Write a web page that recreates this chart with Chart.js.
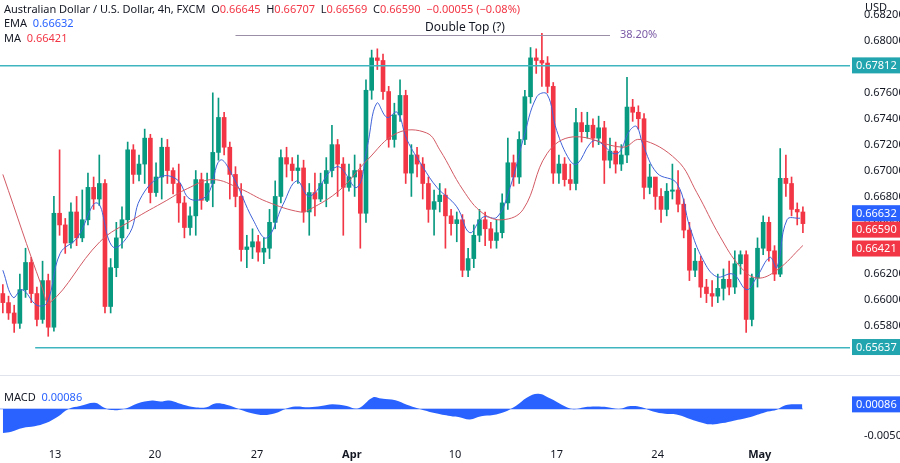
<!DOCTYPE html>
<html><head><meta charset="utf-8">
<script src="https://cdn.jsdelivr.net/npm/chart.js@4"></script>
<style>
body{margin:0;width:900px;height:463px;background:#fff;position:relative;overflow:hidden;font-family:"Noto Sans",sans-serif;}
#c1{position:absolute;left:0;top:0;}
#c2{position:absolute;left:0;top:376px;}
.sep{position:absolute;left:0;top:375px;width:900px;height:1px;background:#e0e3eb;}
.lg{position:absolute;left:4px;font-size:11px;color:#131722;white-space:nowrap;}
.r{color:#f23645}.b{color:#2962ff}
</style></head><body>
<canvas id="c1" width="900" height="375"></canvas>
<div class="sep"></div>
<canvas id="c2" width="900" height="87"></canvas>
<div class="lg" style="top:1px">Australian Dollar / U.S. Dollar, 4h, FXCM&nbsp;&nbsp;O<span class="r">0.66645</span>&nbsp; H<span class="r">0.66707</span>&nbsp; L<span class="r">0.66569</span>&nbsp; C<span class="r">0.66590</span>&nbsp; <span class="r">−0.00055 (−0.08%)</span></div>
<div class="lg" style="top:15px">EMA&nbsp; <span class="b">0.66632</span></div>
<div class="lg" style="top:30px">MA&nbsp; <span class="r">0.66421</span></div>
<div class="lg" style="top:18px;left:425px;font-size:12px">Double Top (?)</div>
<div class="lg" style="top:-1px;left:865px;">USD</div>
<div class="lg" style="top:389px;">MACD&nbsp; <span class="b">0.00086</span></div>
<script>
const firstOpen = 0.6605;
const closes = [
0.6598,0.6590,0.6582,0.6608,0.6629,0.6605,0.6585,0.6615,0.6579,0.6667,
0.6658,0.6644,0.6668,0.6648,0.6662,0.6687,0.6678,0.6690,0.6595,0.6625,
0.6648,0.6662,0.6716,
0.6697,0.6705,0.6725,0.6683,0.6695,0.6718,0.6700,0.6690,0.6675,0.6656,0.6665,0.6693,0.6677,0.6690,
0.6714,0.6741,0.6718,0.6697,0.6680,0.6639,0.6641,0.6645,0.6637,
0.6640,0.6660,0.6680,0.6710,0.6705,
0.6700,0.6702,0.6668,0.6683,0.6678,
0.6690,0.6700,0.6720,0.6705,0.6687,
0.6695,0.6700,0.6667,0.6762,0.6787,0.6785,0.6761,0.6724,0.6743,0.6758,0.6698,0.6712,0.6705,0.6690,0.6670,0.6676,
0.6681,0.6665,0.6659,
0.6662,0.6623,0.6632,0.6650,0.6662,0.6655,0.6646,0.6652,0.6675,0.6706,0.6695,0.6724,0.6757,0.6787,0.6785,0.6783,0.6765,0.6698,0.6705,0.6693,
0.6690,
0.6737,0.6730,0.6735,0.6725,0.6733,0.6708,0.6715,
0.6705,0.6712,0.6749,0.6745,0.6740,0.6687,0.6695,
0.6680,0.6670,0.6684,
0.6685,0.6674,0.6654,0.6623,0.6630,0.6610,0.6605,0.6603,0.6609,0.6616,0.6610,0.6628,0.6635,0.6585,0.6617,
0.6640,0.6660,0.6638,0.6620,0.6694,0.6690,0.6670,
0.6668,0.6659];
const highs = [
0.6612,0.6603,0.6596,0.6620,0.6640,0.6633,0.6610,0.6630,0.6620,0.6680,
0.6716,0.6663,0.6675,0.6680,0.6685,0.6698,0.6695,0.6712,0.6693,0.6632,
0.6660,0.6672,0.6722,
0.6720,0.6712,0.6732,0.6728,0.6706,0.6725,0.6724,0.6702,0.6705,0.6680,0.6672,0.6700,0.6698,0.6698,
0.6760,0.6756,0.6745,0.6722,0.6703,0.6690,0.6650,0.6655,0.6650,
0.6648,0.6670,0.6692,0.6716,0.6718,
0.6710,0.6712,0.6708,0.6690,0.6698,
0.6698,0.6710,0.6735,0.6724,0.6710,
0.6705,0.6712,0.6705,0.6770,0.6793,0.6794,0.6790,0.6765,0.6752,0.6770,0.6762,0.6720,0.6718,0.6710,0.6695,0.6685,
0.6690,0.6686,0.6670,
0.6668,0.6666,0.6640,0.6658,0.6670,0.6668,0.6660,0.6662,0.6682,0.6725,0.6712,0.6730,0.6762,0.6795,0.6794,0.6806,0.6788,0.6768,0.6712,0.6710,
0.6705,
0.6748,0.6745,0.6745,0.6740,0.6742,0.6738,0.6725,
0.6722,0.6720,0.6772,0.6755,0.6750,0.6744,0.6705,
0.6692,0.6686,0.6690,
0.6705,0.6700,0.6678,0.6660,0.6640,0.6634,0.6616,0.6615,0.6620,0.6624,0.6630,0.6638,0.6638,0.6638,0.6620,
0.6648,0.6665,0.6664,0.6642,0.6717,0.6712,0.6695,
0.6675,0.6672];
const lows = [
0.6590,0.6585,0.6575,0.6578,0.6602,0.6598,0.6580,0.6582,0.6572,0.6576,
0.6650,0.6636,0.6640,0.6642,0.6645,0.6658,0.6670,0.6673,0.6590,0.6590,
0.6618,0.6640,0.6655,
0.6690,0.6692,0.6690,0.6675,0.6680,0.6678,0.6690,0.6682,0.6660,0.6648,0.6650,0.6650,0.6670,0.6676,
0.6672,0.6708,0.6712,0.6678,0.6672,0.6630,0.6625,0.6632,0.6630,
0.6628,0.6632,0.6655,0.6675,0.6695,
0.6692,0.6690,0.6660,0.6650,0.6665,
0.6676,0.6672,0.6695,0.6680,0.6650,
0.6684,0.6680,0.6640,0.6660,0.6755,0.6778,0.6755,0.6718,0.6718,0.6738,0.6690,0.6680,0.6695,0.6678,0.6660,0.6650,
0.6668,0.6640,0.6650,
0.6645,0.6618,0.6618,0.6625,0.6645,0.6642,0.6640,0.6640,0.6648,0.6670,0.6688,0.6690,0.6720,0.6752,0.6775,0.6765,0.6760,0.6690,0.6690,0.6688,
0.6685,
0.6685,0.6722,0.6725,0.6718,0.6720,0.6690,0.6702,
0.6698,0.6700,0.6706,0.6738,0.6732,0.6678,0.6682,
0.6670,0.6660,0.6665,
0.6678,0.6668,0.6648,0.6615,0.6618,0.6602,0.6598,0.6595,0.6598,0.6600,0.6604,0.6605,0.6620,0.6575,0.6580,
0.6610,0.6635,0.6630,0.6615,0.6618,0.6680,0.6665,
0.6658,0.6652];
const emaX = [0,1.8,3.4,6.0,7.8,10.1,13.1,16.6,19.4,22.4,24.2,27.7,30.7,33.0,36.0,38.3,40.6,44.1,46.5,49.4,51.8,
54.1,58.9,62.4,64.2,65.9,67.7,69.5,71.2,74.0,76.5,80.0,82.3,84.6,87.1,89.4,91.7,94.1,95.9,97.6,99.9,101.2,103.5,
104.7,108.2,110.5,111.7,112.8,115.3,118.8,121.1,123.4,125.8,128.7,131.1,132.9,135.2,136.4,138.2,140.5];
const emaY = [.6623,.6602,.6608,.6596,.6598,.6636,.6648,.6675,.6641,.6652,.6678,.6695,.6693,.6678,.6681,.6708,.6695,.6662,.6648,.6674,.6692,
.6680,.6703,.6687,.6718,.6752,.6741,.6745,.6724,.6703,.6687,.6672,.6652,.6664,.6664,.6687,.6724,.6757,.6759,.6731,.6708,.6705,.6721,
.6723,.6713,.6731,.6734,.6720,.6698,.6690,.6656,.6631,.6618,.6620,.6608,.6618,.6633,.6625,.6662,.66632];
const maX = [0,6.9,8.3,17.1,22.9,28.9,32.5,37.0,41.8,46.5,52.4,54.1,59.4,64.2,69.5,74.7,77.0,81.1,84.6,88.1,91.7,95.9,100.5,109.3,112.3,118.8,122.3,126.4,129.9,132.9,136.4,141.0];
const maY = [0.6697,0.6610,0.6598,0.6645,0.6662,0.6677,0.6686,0.6693,0.6686,0.6676,0.6668,0.6670,0.6685,0.6708,0.6729,0.6729,0.6716,0.6685,0.6667,0.6662,0.6670,0.6713,0.6726,0.6718,0.6724,0.6708,0.6683,0.6649,0.6626,0.6617,0.6623,0.66421];
const macdX = [0,1.5,3.5,5.6,7.6,9.6,11.6,13.6,16.2,17.7,19.2,21.7,23.7,26.3,27.8,29.3,31.8,33.8,35.9,37.4,39.4,41.9,43.9,46.0,48.0,50.0,51.5,54.0,56.1,58.1,60.6,62.6,65.2,66.7,69.2,71.2,73.2,76.3,79.3,80.3,82.3,84.3,86.4,88.4,90.4,92.4,94.4,96.5,98.5,100.5,102.5,104.5,106.6,108.6,110.6,112.6,114.6,116.7,118.7,120.7,122.7,124.7,126.8,128.8,130.3,131.8,134.8,136.4,137.9,139.4,140.9];
const macdY = [-0.00450,-0.00427,-0.00358,-0.00326,-0.00266,-0.00151,0.00000,0.00055,0.00115,0.00033,-0.00022,0.00009,0.00102,0.00157,0.00139,0.00157,0.00079,0.00033,0.00033,0.00102,0.00079,-0.00013,-0.00082,-0.00115,-0.00082,0.00009,0.00046,0.00033,0.00055,0.00088,0.00055,0.00009,0.00217,0.00194,0.00162,0.00079,0.00009,-0.00082,-0.00142,-0.00151,-0.00197,-0.00137,-0.00115,-0.00059,0.00055,0.00217,0.00286,0.00194,0.00079,-0.00004,0.00033,0.00046,0.00033,0.00000,0.00055,0.00033,-0.00050,-0.00092,-0.00105,-0.00174,-0.00243,-0.00289,-0.00266,-0.00220,-0.00188,-0.00151,-0.00050,-0.00013,0.00069,0.00088,0.00086];
const dateTicks = [9.2,26.8,44.8,61.5,79.7,97.6,115.4,133.4];
const dateLabels = ['13','20','27','Apr','10','17','24','May'];
const priceTickValues = [0.658,0.660,0.662,0.664,0.666,0.668,0.670,0.672,0.674,0.676,0.678,0.680,0.682];
const levelTop = 0.67812, levelBottom = 0.65637, bottomStart = 5.7;
const fibLevel = 0.6805, fibStart = 41, fibEnd = 107, fibText = '38.20%';
const priceTags = [[0.67812,'#22a5ae',0],[0.66632,'#2962ff',-5],[0.66590,'#f23645',6],[0.66421,'#f23645',3],[0.65637,'#22a5ae',0]];
const macdTag = 0.00086;

const GREEN='#089981', RED='#f23645';
const opens = closes.map((c,i)=> i===0 ? firstOpen : closes[i-1]);
const cols = closes.map((c,i)=> c>=opens[i] ? GREEN : RED);
const XMIN=-0.5, XMAX=149.3;
const font = {family:'"Noto Sans", sans-serif', size:11};

const tagPlugin = {
  id:'tags',
  afterDraw(chart){
    const ctx=chart.ctx, y=chart.scales.y, x=chart.scales.x, a=chart.chartArea;
    ctx.save();
    ctx.fillStyle='#3fb6bf';
    let py=Math.round(y.getPixelForValue(levelTop));
    ctx.fillRect(a.left,py,a.right-a.left,1.5);
    py=Math.round(y.getPixelForValue(levelBottom));
    const bx=x.getPixelForValue(bottomStart);
    ctx.fillRect(bx,py,a.right-bx,1.5);
    ctx.fillStyle='#9a8fa6';
    py=Math.round(y.getPixelForValue(fibLevel));
    const fx=x.getPixelForValue(fibStart), fe=x.getPixelForValue(fibEnd);
    ctx.fillRect(fx,py,fe-fx,1);
    ctx.fillStyle='#7b5aa6'; ctx.font='11px "Noto Sans"'; ctx.textBaseline='middle'; ctx.textAlign='left';
    ctx.fillText(fibText, fe+10, py);
    for(const [v,c,off] of priceTags){
      const p=y.getPixelForValue(v)+off;
      ctx.fillStyle=c; ctx.fillRect(a.right+2,p-8,48,16);
      ctx.fillStyle='#fff'; ctx.fillText(v.toFixed(5), a.right+6, p+0.5);
    }
    ctx.restore();
  }
};
const macdPlugin = {
  id:'mtag',
  afterDraw(chart){
    const ctx=chart.ctx, y=chart.scales.y, a=chart.chartArea;
    const p=y.getPixelForValue(macdTag);
    ctx.save(); ctx.fillStyle='#2962ff'; ctx.fillRect(a.right+2,p-8,48,16);
    ctx.fillStyle='#fff'; ctx.font='11px "Noto Sans"'; ctx.textBaseline='middle';
    ctx.fillText(macdTag.toFixed(5), a.right+6, p+0.5); ctx.restore();
  }
};

new Chart(document.getElementById('c1'),{
  type:'bar',
  data:{datasets:[
    {type:'line',data:maX.map((x,i)=>({x,y:maY[i]})),borderColor:'#d25a64',borderWidth:1,pointRadius:0,tension:0.4,order:0},
    {type:'line',data:emaX.map((x,i)=>({x,y:emaY[i]})),borderColor:'#3f62d8',borderWidth:1,pointRadius:0,tension:0.4,order:0},
    {data:closes.map((c,i)=>({x:i,y:[lows[i],highs[i]]})),backgroundColor:cols,barThickness:1,grouped:false,order:2},
    {data:closes.map((c,i)=>({x:i,y:[opens[i],c]})),backgroundColor:cols,barThickness:4,grouped:false,minBarLength:1,order:1}
  ]},
  options:{
    responsive:false,animation:false,
    layout:{padding:0},
    plugins:{legend:{display:false},tooltip:{enabled:false}},
    scales:{
      x:{type:'linear',min:XMIN,max:XMAX,display:false,offset:false},
      y:{position:'right',min:0.65421,max:0.68317,grid:{display:false},border:{display:false},
         afterFit(s){s.width=50; s.paddingTop=0; s.paddingBottom=0;},
         afterBuildTicks(s){s.ticks=priceTickValues.map(v=>({value:v}));},
         ticks:{color:'#131722',font,padding:6,callback:v=>v.toFixed(5)}}
    }
  },
  plugins:[tagPlugin]
});

new Chart(document.getElementById('c2'),{
  type:'line',
  data:{datasets:[
    {data:macdX.map((x,i)=>({x,y:macdY[i]})),borderWidth:0,pointRadius:0,tension:0.4,fill:'origin',backgroundColor:'#2962ff'},
    {data:[{x:XMIN,y:0},{x:141,y:0}],borderColor:'#8aa4f5',borderWidth:1,pointRadius:0}
  ]},
  options:{
    responsive:false,animation:false,
    layout:{padding:{top:2}},
    plugins:{legend:{display:false},tooltip:{enabled:false}},
    scales:{
      x:{type:'linear',min:XMIN,max:XMAX,offset:false,grid:{display:false},border:{display:false},
         afterBuildTicks(s){s.ticks=dateTicks.map(v=>({value:v}));},
         ticks:{color:'#131722',font:(c)=>({family:'"Noto Sans"',size:11,weight:(c.tick&&['Apr','May'].includes(dateLabels[dateTicks.indexOf(c.tick.value)]))?'bold':'normal'}),maxRotation:0,padding:2,
           callback:(v)=>dateLabels[dateTicks.indexOf(v)]}},
      y:{position:'right',min:-0.00542,max:0.00382,grid:{display:false},border:{display:false},
         afterFit(s){s.width=50;},
         afterBuildTicks(s){s.ticks=[{value:-0.005},{value:0}];},
         ticks:{color:'#131722',font,padding:6,callback:v=>v.toFixed(5)}}
    }
  },
  plugins:[macdPlugin]
});
</script></body></html>
